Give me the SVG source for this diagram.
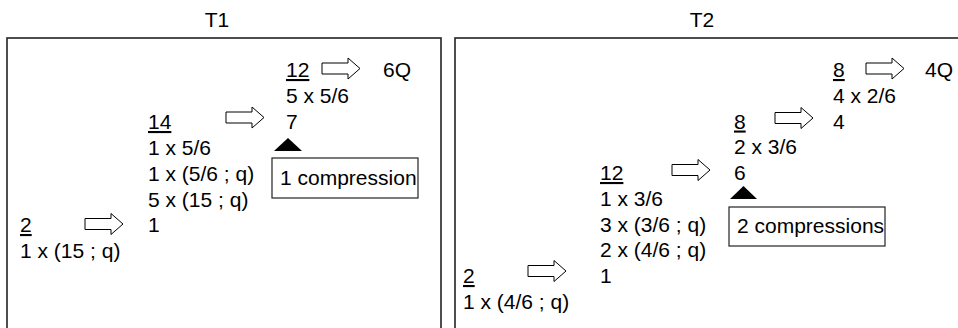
<svg xmlns="http://www.w3.org/2000/svg" xmlns:xlink="http://www.w3.org/1999/xlink" width="958" height="328" viewBox="0 0 958 328">
<style>
text{font-family:"Liberation Sans",Arial,sans-serif;font-size:21px;fill:#000}
.u{text-decoration:underline}
.frame{fill:none;stroke:#222;stroke-width:1.6}
.box{fill:#fff;stroke:#222;stroke-width:1.2}
.arr{fill:#fff;stroke:#000;stroke-width:1}
.tri{fill:#000}
</style>
<defs>
<path id="arrow" class="arr" d="M0,-5.5 H26 V-10.5 L38,0 L26,10.5 V5.5 H0 Z"/>
</defs>
<rect width="958" height="328" fill="#fff"/>
<g id="T1">
<text x="217" y="27" text-anchor="middle">T1</text>
<rect class="frame" x="7" y="38" width="434" height="300"/>
</g>
<g id="T2">
<text x="702" y="27" text-anchor="middle">T2</text>
<rect class="frame" x="455" y="38" width="520" height="300"/>
</g>
<g id="t1-n12">
<text x="286" y="77" class="u">12</text>
<text x="286" y="103">5 x 5/6</text>
<text x="286" y="128.5">7</text>
</g>
<g id="t1-6Q"><text x="383" y="77">6Q</text></g>
<g id="t1-n14">
<text x="148" y="129" class="u">14</text>
<text x="148" y="155">1 x 5/6</text>
<text x="148" y="181">1 x (5/6 ; q)</text>
<text x="148" y="207">5 x (15 ; q)</text>
<text x="148" y="232">1</text>
</g>
<g id="t1-n2">
<text x="20" y="232" class="u">2</text>
<text x="20" y="257.5">1 x (15 ; q)</text>
</g>
<g id="t1-comp">
<polygon class="tri" points="274,151 302,151 288,138"/>
<rect class="box" x="272" y="158" width="146" height="40"/>
<text x="280" y="185">1 compression</text>
</g>
<g id="t2-n8a">
<text x="833" y="77" class="u">8</text>
<text x="833" y="103">4 x 2/6</text>
<text x="833" y="128.5">4</text>
</g>
<g id="t2-4Q"><text x="925" y="77">4Q</text></g>
<g id="t2-n8b">
<text x="734" y="128.5" class="u">8</text>
<text x="734" y="154">2 x 3/6</text>
<text x="734" y="180">6</text>
</g>
<g id="t2-n12">
<text x="600" y="180" class="u">12</text>
<text x="600" y="206">1 x 3/6</text>
<text x="600" y="231.5">3 x (3/6 ; q)</text>
<text x="600" y="257">2 x (4/6 ; q)</text>
<text x="600" y="283">1</text>
</g>
<g id="t2-n2">
<text x="463" y="283" class="u">2</text>
<text x="463" y="308.5">1 x (4/6 ; q)</text>
</g>
<g id="t2-comp">
<polygon class="tri" points="730,199 757,199 743.5,186"/>
<rect class="box" x="729" y="207" width="156" height="39"/>
<text x="737" y="233">2 compressions</text>
</g>
<g id="connectors">
<use xlink:href="#arrow" transform="translate(322,68.5)"/>
<use xlink:href="#arrow" transform="translate(226,117.5)"/>
<use xlink:href="#arrow" transform="translate(85,224)"/>
<use xlink:href="#arrow" transform="translate(866,68.5)"/>
<use xlink:href="#arrow" transform="translate(775,118)"/>
<use xlink:href="#arrow" transform="translate(672,170)"/>
<use xlink:href="#arrow" transform="translate(528,271)"/>
</g>
</svg>
